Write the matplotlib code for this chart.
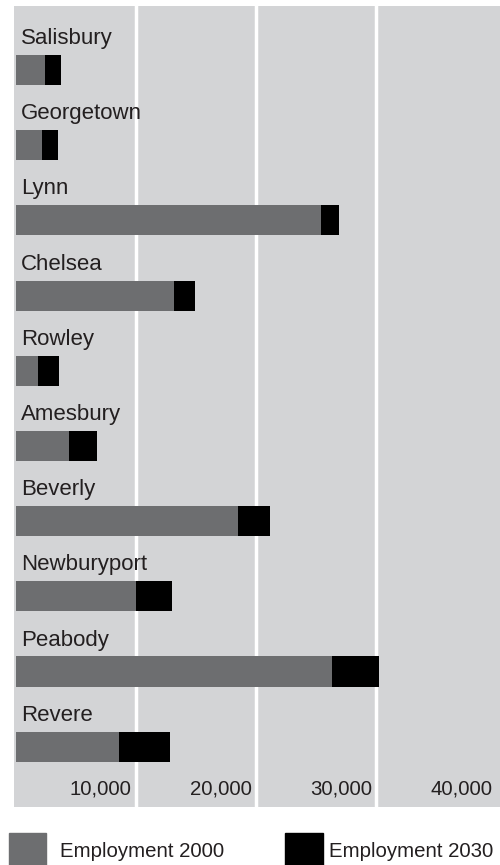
import matplotlib.pyplot as plt
from matplotlib.patches import Rectangle

towns = ['Salisbury', 'Georgetown', 'Lynn', 'Chelsea', 'Rowley', 'Amesbury',
         'Beverly', 'Newburyport', 'Peabody', 'Revere']
emp2000 = [2450, 2200, 25400, 13200, 1870, 4450, 18500, 10000, 26300, 8600]
emp2030 = [3780, 3530, 26900, 14900, 3620, 6780, 21150, 13000, 30200, 12850]
ticks = [10000, 20000, 30000, 40000]

gray = '#6d6e70'
bg = '#d3d4d6'
txt = '#231f20'
plt.rcParams['font.family'] = ['Liberation Sans', 'DejaVu Sans']

fig = plt.figure(figsize=(5, 8.65), dpi=100)
ax = fig.add_axes([14 / 500, 1 - 807 / 865, 486 / 500, 801 / 865])
ax.set_facecolor(bg)
for s in ax.spines.values():
    s.set_visible(False)
ax.set_xticks([])
ax.set_yticks([])

for g in ticks[:3]:
    ax.axvline(g, color='white', lw=2.5, zorder=1)

y = list(range(len(towns)))
ax.barh(y, emp2030, height=0.4, color='black', zorder=2)
ax.barh(y, emp2000, height=0.4, color=gray, zorder=3)

for i, t in enumerate(towns):
    ax.text(450, i - 0.345, t, fontsize=16, color=txt, va='baseline', ha='left', zorder=4)

for t in ticks:
    ax.text(t - 380, 9.64, f'{t:,}', fontsize=14.7, color=txt, va='baseline', ha='right', zorder=4)

ax.set_xlim(-125, 40275)
ax.set_ylim(9.802, -0.851)

# legend
W, H = 500, 865
fig.patches.append(Rectangle((9 / W, 0), 37 / W, 32 / H, transform=fig.transFigure,
                             color=gray, figure=fig))
fig.patches.append(Rectangle((285 / W, 0), 38 / W, 32 / H, transform=fig.transFigure,
                             color='black', figure=fig))
fig.text(60 / W, 1 - 857 / H, 'Employment 2000', fontsize=14.7, color=txt, va='baseline')
fig.text(329 / W, 1 - 857 / H, 'Employment 2030', fontsize=14.7, color=txt, va='baseline')

fig.savefig('out.png', dpi=100)
